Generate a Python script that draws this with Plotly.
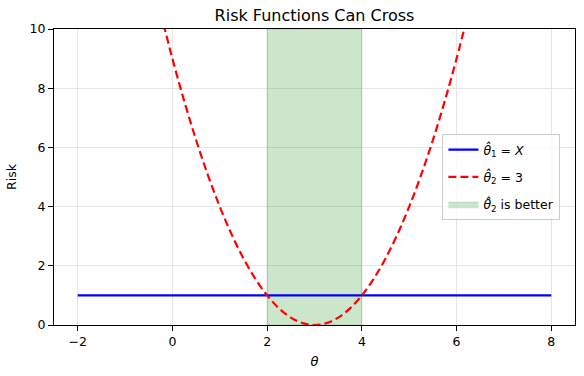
import plotly.graph_objects as go

# Data
theta_const = [-2, 8]
risk_const = [1, 1]

theta_q = [-0.25, 0.0, 0.25, 0.5, 0.75, 1.0, 1.25, 1.5, 1.75, 2.0, 2.25, 2.5, 2.75, 3.0,
           3.25, 3.5, 3.75, 4.0, 4.25, 4.5, 4.75, 5.0, 5.25, 5.5, 5.75, 6.0, 6.25]
risk_q = [10.5625, 9.0, 7.5625, 6.25, 5.0625, 4.0, 3.0625, 2.25, 1.5625, 1.0, 0.5625, 0.25, 0.0625, 0.0,
          0.0625, 0.25, 0.5625, 1.0, 1.5625, 2.25, 3.0625, 4.0, 5.0625, 6.25, 7.5625, 9.0, 10.5625]

better_lo, better_hi = 2, 4
y_max = 10

font = "DejaVu Sans"

fig = go.Figure()

fig.add_trace(go.Scatter(
    x=[better_lo, better_hi, better_hi, better_lo, better_lo],
    y=[0, 0, y_max, y_max, 0],
    fill="toself", mode="lines",
    fillcolor="rgba(0,128,0,0.2)",
    line=dict(color="rgba(0,128,0,0.2)", width=1),
    name="<i>θ̂</i><sub>2</sub> is better",
    legendrank=3, legendgroup="c",
))
fig.add_trace(go.Scatter(
    x=theta_const, y=risk_const, mode="lines",
    line=dict(color="#0000ff", width=2.2),
    name="<i>θ̂</i><sub>1</sub> = <i>X</i>",
    legendrank=1, legendgroup="a",
))
fig.add_trace(go.Scatter(
    x=theta_q, y=risk_q, mode="lines",
    line=dict(color="#ff0000", width=2.2, dash="8px,4px", shape="spline"),
    name="<i>θ̂</i><sub>2</sub> = 3",
    legendrank=2, legendgroup="b",
))

axis_common = dict(
    showline=True, linecolor="black", linewidth=1, mirror=True,
    ticks="outside", ticklen=5, tickcolor="black", tickwidth=1,
    showgrid=True, gridcolor="#e6e6e6", gridwidth=1, zeroline=False,
    tickfont=dict(family=font, size=12.5, color="black"),
    automargin=False,
)

fig.update_layout(
    width=584, height=376,
    margin=dict(l=54, r=9, t=29, b=51, autoexpand=False),
    paper_bgcolor="white", plot_bgcolor="white",
    font=dict(family=font, color="black"),
    title=dict(text="Risk Functions Can Cross", x=0.5, xref="paper", xanchor="center",
               y=1 - 15 / 376, yanchor="middle",
               font=dict(family=font, size=16, color="black")),
    xaxis=dict(range=[-2.5, 8.5], tickvals=[-2, 0, 2, 4, 6, 8],
               ticktext=["−2", "0", "2", "4", "6", "8"],
               title=dict(text="<i>θ</i>", font=dict(family=font, size=13), standoff=8),
               **axis_common),
    yaxis=dict(range=[0, 10], tickvals=[0, 2, 4, 6, 8, 10],
               title=dict(text="Risk", font=dict(family=font, size=12.5), standoff=10),
               **axis_common),
    legend=dict(x=0.972, xanchor="right", y=0.5, yanchor="middle",
                bgcolor="rgba(255,255,255,0.8)", bordercolor="#cccccc", borderwidth=1,
                font=dict(family=font, size=12.5), itemwidth=30, tracegroupgap=8),
    showlegend=True,
)

fig.write_html("out.html", post_script="document.body.style.margin='0';",
               config={"displayModeBar": False})
